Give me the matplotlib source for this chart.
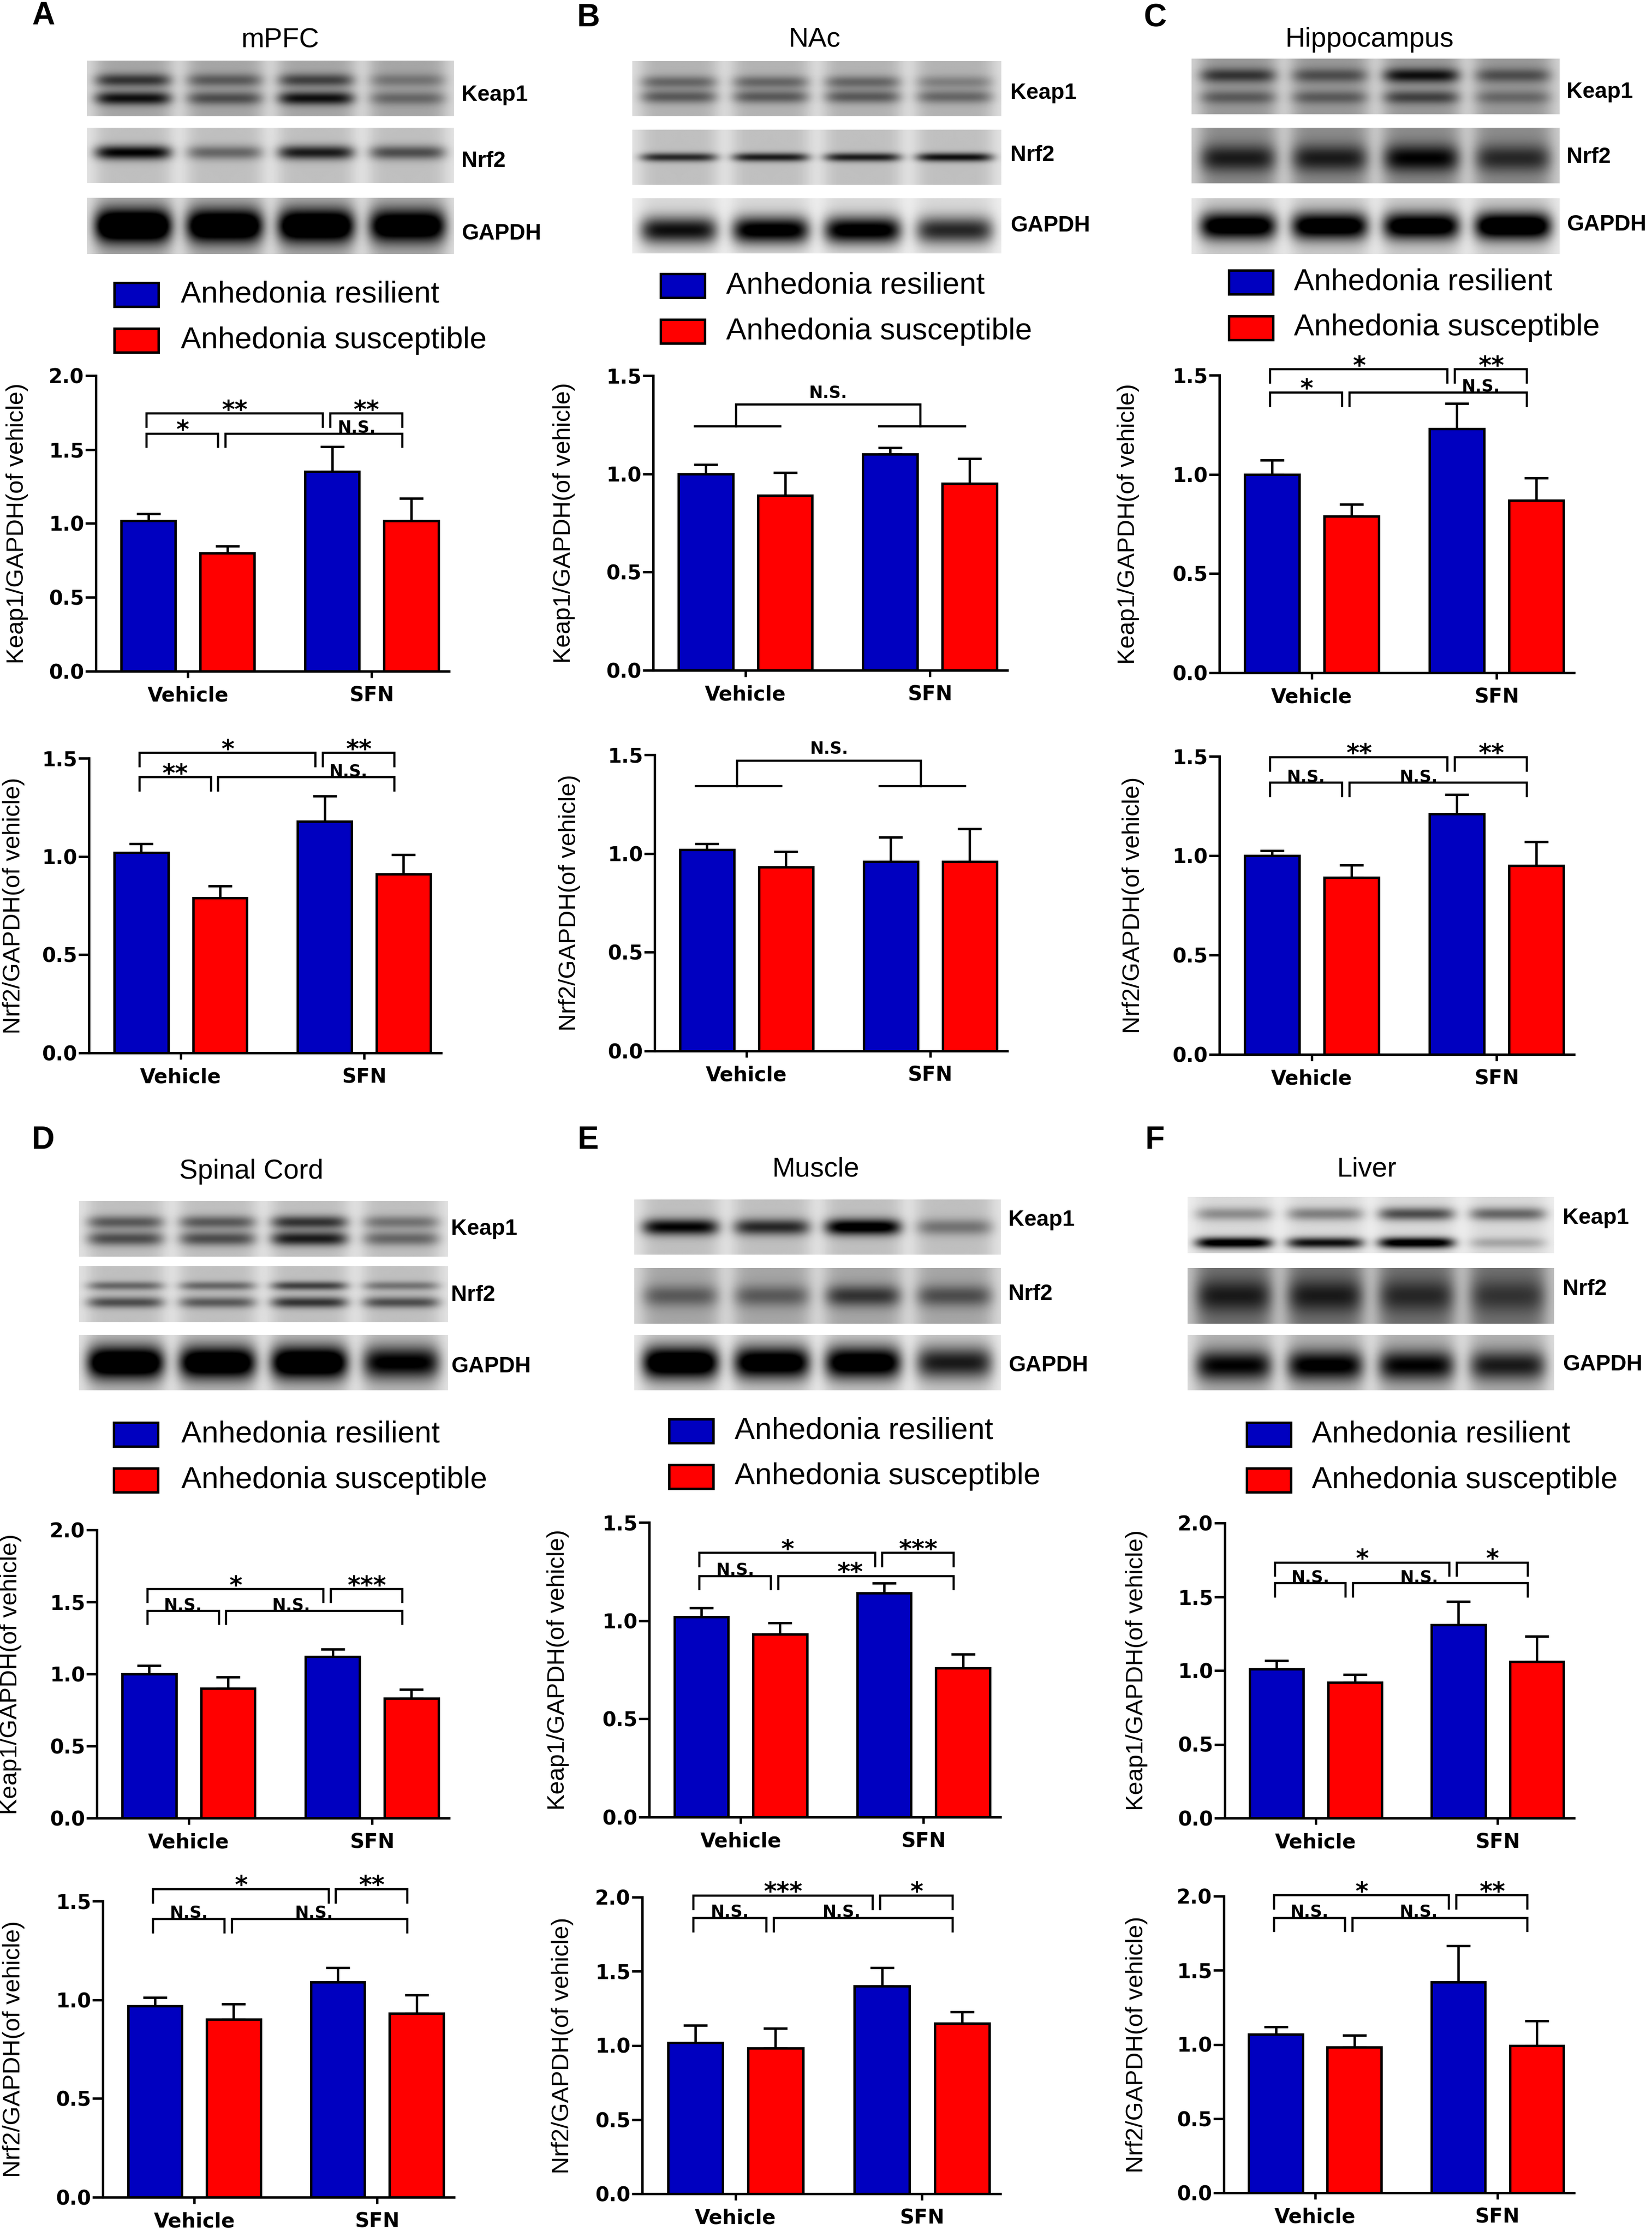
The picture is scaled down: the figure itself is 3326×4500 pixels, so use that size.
import numpy as np
import matplotlib
matplotlib.use('Agg')
import matplotlib.pyplot as plt
from matplotlib.patches import Rectangle

W, H = 3326, 4500
BLUE = '#0000c0'
RED = '#ff0000'
SANS = ['Liberation Sans', 'DejaVu Sans']

groups = ['Vehicle', 'SFN']
legend_labels = ['Anhedonia resilient', 'Anhedonia susceptible']
letters = ['A', 'B', 'C', 'D', 'E', 'F']
regions = ['mPFC', 'NAc', 'Hippocampus', 'Spinal Cord', 'Muscle', 'Liver']
blot_names = ['Keap1', 'Nrf2', 'GAPDH']

# bar order: resilient-vehicle, susceptible-vehicle, resilient-SFN, susceptible-SFN
keap1_mean = [
    [1.02, 0.80, 1.35, 1.02],
    [1.00, 0.89, 1.10, 0.95],
    [1.00, 0.79, 1.23, 0.87],
    [1.00, 0.90, 1.12, 0.83],
    [1.02, 0.93, 1.14, 0.76],
    [1.01, 0.92, 1.31, 1.06],
]
keap1_sem = [
    [0.045, 0.048, 0.17, 0.15],
    [0.046, 0.117, 0.034, 0.127],
    [0.073, 0.060, 0.128, 0.112],
    [0.057, 0.080, 0.054, 0.064],
    [0.044, 0.059, 0.051, 0.069],
    [0.056, 0.052, 0.157, 0.173],
]
nrf2_mean = [
    [1.02, 0.79, 1.18, 0.91],
    [1.02, 0.93, 0.96, 0.96],
    [1.00, 0.89, 1.21, 0.95],
    [0.97, 0.90, 1.09, 0.93],
    [1.02, 0.98, 1.40, 1.15],
    [1.07, 0.98, 1.42, 0.99],
]
nrf2_sem = [
    [0.046, 0.059, 0.128, 0.099],
    [0.029, 0.078, 0.121, 0.166],
    [0.025, 0.063, 0.097, 0.121],
    [0.041, 0.080, 0.073, 0.095],
    [0.117, 0.136, 0.124, 0.075],
    [0.049, 0.081, 0.244, 0.168],
]
keap1_ymax = [2.0, 1.5, 1.5, 2.0, 1.5, 2.0]
nrf2_ymax = [1.5, 1.5, 1.5, 1.5, 2.0, 2.0]

# significance brackets: low row (0-1, 1-3), high row (0-2, 2-3)
keap1_sig_low = [1.608, 1.243, 1.413, 1.438, 1.228, 1.592]
keap1_sig_high = [1.743, 1.353, 1.529, 1.589, 1.345, 1.732]
keap1_sig_text = [['*', 'N.S.', '**', '**'], ['N.S.'], ['*', 'N.S.', '*', '**'],
                  ['N.S.', 'N.S.', '*', '***'], ['N.S.', '**', '*', '***'],
                  ['N.S.', 'N.S.', '*', '*']]
keap1_long_pos = [0.745, 0.5, 0.74, 0.37, 0.41, 0.38]
nrf2_sig_low = [1.403, 1.341, 1.367, 1.410, 1.860, 1.854]
nrf2_sig_high = [1.527, 1.471, 1.495, 1.561, 2.010, 2.006]
nrf2_sig_text = [['**', 'N.S.', '*', '**'], ['N.S.'], ['N.S.', 'N.S.', '**', '**'],
                 ['N.S.', 'N.S.', '*', '**'], ['N.S.', 'N.S.', '***', '*'],
                 ['N.S.', 'N.S.', '*', '**']]
nrf2_long_pos = [0.74, 0.5, 0.39, 0.47, 0.38, 0.38]

# western blot look: lane background and bands (y, width, darkness per lane)
blot_bg = [
    [0.35, 0.25, 0.30],
    [0.30, 0.25, 0.15],
    [0.40, 0.45, 0.20],
    [0.25, 0.25, 0.25],
    [0.25, 0.35, 0.20],
    [0.15, 0.55, 0.30],
]
blot_bands = [
    [[(0.35, 0.12, [0.45, 0.30, 0.40, 0.20]), (0.68, 0.12, [0.6, 0.35, 0.6, 0.25])],
     [(0.45, 0.13, [0.75, 0.35, 0.65, 0.45])],
     [(0.5, 0.3, [1.2, 1.1, 1.1, 1.0])]],
    [[(0.38, 0.12, [0.3, 0.3, 0.3, 0.2]), (0.65, 0.12, [0.35, 0.35, 0.35, 0.3])],
     [(0.5, 0.08, [0.6, 0.65, 0.65, 0.7])],
     [(0.58, 0.25, [0.8, 0.95, 0.95, 0.7])]],
    [[(0.3, 0.13, [0.4, 0.3, 0.55, 0.3]), (0.7, 0.12, [0.25, 0.25, 0.35, 0.2])],
     [(0.55, 0.25, [0.45, 0.45, 0.55, 0.4])],
     [(0.5, 0.25, [1.0, 1.0, 1.0, 1.1])]],
    [[(0.38, 0.12, [0.4, 0.4, 0.55, 0.3]), (0.68, 0.13, [0.45, 0.45, 0.65, 0.35])],
     [(0.35, 0.08, [0.35, 0.35, 0.5, 0.3]), (0.65, 0.1, [0.45, 0.4, 0.55, 0.45])],
     [(0.5, 0.3, [1.1, 1.05, 1.1, 0.8])]],
    [[(0.5, 0.15, [0.75, 0.6, 0.85, 0.3])],
     [(0.5, 0.2, [0.3, 0.3, 0.45, 0.35])],
     [(0.5, 0.3, [1.1, 1.0, 1.0, 0.7])]],
    [[(0.3, 0.12, [0.3, 0.35, 0.55, 0.45]), (0.82, 0.1, [0.95, 0.8, 0.95, 0.2])],
     [(0.5, 0.3, [0.35, 0.35, 0.3, 0.25])],
     [(0.55, 0.28, [0.7, 0.75, 0.7, 0.6])]],
]

# layout in pixels of the 3326x4500 canvas
keap1_box = [(193, 904, 756, 1351), (1315, 2028, 756, 1349), (2455, 3169, 755, 1354),
             (195, 904, 3079, 3659), (1307, 2014, 3064, 3657), (2466, 3169, 3065, 3659)]
nrf2_box = [(179, 888, 1526, 2119), (1318, 2028, 1519, 2115), (2455, 3169, 1522, 2122),
            (207, 914, 3826, 4422), (1293, 2014, 3818, 4415), (2464, 3169, 3816, 4413)]
keap1_ylab_x = [57, 1158, 2294, 44, 1146, 2311]
nrf2_ylab_x = [50, 1169, 2304, 50, 1155, 2311]
blot_x = [(175, 914), (1273, 2016), (2399, 3140), (159, 902), (1277, 2015), (2391, 3129)]
blot_y = [[(122, 234), (257, 368), (398, 511)], [(123, 234), (261, 372), (399, 510)],
          [(118, 230), (257, 369), (399, 511)], [(2417, 2529), (2548, 2661), (2687, 2798)],
          [(2414, 2525), (2552, 2664), (2687, 2798)], [(2409, 2522), (2552, 2664), (2687, 2798)]]
blot_label_x = [929, 2034, 3154, 908, 2030, 3146]
blot_label_y = [[191, 325, 471], [188, 312, 455], [186, 317, 452],
                [2474, 2606, 2751], [2456, 2604, 2749], [2452, 2595, 2746]]
title_xy = [(564, 82), (1640, 80), (2757, 80), (506, 2358), (1642, 2354), (2752, 2354)]
letter_xy = [(64, 2), (1162, 6), (2302, 6), (64, 2265), (1163, 2265), (2306, 2265)]
legend_x = [230, 1330, 2474, 229, 1347, 2510]
legend_y = [569, 551, 544, 2863, 2856, 2863]
legend_text_x = [364, 1462, 2605, 365, 1479, 2641]

OFF = 0.215
BW = 0.295
LW = 3.5


def blot_image(bg, bands, nx=240, ny=80):
    xx = np.linspace(0, 1, nx)[None, :]
    yy = np.linspace(0, 1, ny)[:, None]
    img = np.full((ny, nx), bg * 0.45)
    for k in range(4):
        lane = np.exp(-((xx - (k + 0.5) / 4) / 0.105) ** 6)
        img = img + lane * bg * 0.55
        for yp, sig, dark in bands:
            img = img + lane * dark[k] * np.exp(-((yy - yp) / sig) ** 2)
    return np.clip(img, 0, 1)


def bracket(ax, x1, x2, y, drop):
    ax.plot([x1, x1, x2, x2], [y - drop, y, y, y - drop], color='k', lw=3.2,
            clip_on=False, solid_joinstyle='miter')


def sig_label(ax, x, y, s):
    if s.startswith('N'):
        ax.annotate(s, (x, y), xytext=(0, 1), textcoords='offset points', ha='center',
                    va='baseline', fontsize=24, fontweight='bold', annotation_clip=False)
    else:
        ax.annotate(s, (x, y), xytext=(0, -6), textcoords='offset points', ha='center',
                    va='baseline', fontsize=36, fontweight='bold', annotation_clip=False)


def bar_chart(box, ylab_x, means, sems, ymax, low, high, texts, long_pos, ylabel):
    l, r, t, b = box
    ax = fig.add_axes([l / W, 1 - b / H, (r - l) / W, (b - t) / H])
    ax.patch.set_alpha(0)
    xc = np.array([-OFF, OFF, 1 - OFF, 1 + OFF])
    means = np.array(means)
    sems = np.array(sems)
    ax.errorbar(xc, means, yerr=[np.zeros(4), sems], fmt='none', ecolor='k',
                elinewidth=LW, capsize=17, capthick=LW, zorder=1)
    ax.bar(xc[0::2], means[0::2], BW, color=BLUE, edgecolor='k', linewidth=LW, zorder=2)
    ax.bar(xc[1::2], means[1::2], BW, color=RED, edgecolor='k', linewidth=LW, zorder=2)
    ax.set_xlim(-0.5, 1.42)
    ax.set_ylim(0, ymax)
    ax.set_yticks(np.arange(0, ymax + 0.01, 0.5))
    ax.yaxis.set_major_formatter(matplotlib.ticker.FormatStrFormatter('%.1f'))
    ax.set_xticks([0, 1])
    ax.set_xticklabels(groups)
    for s in ('top', 'right'):
        ax.spines[s].set_visible(False)
    for s in ('left', 'bottom'):
        ax.spines[s].set_linewidth(LW)
    ax.tick_params(axis='y', length=15, width=LW, pad=2, labelsize=29)
    ax.tick_params(axis='x', length=9, width=LW, pad=12, labelsize=29)
    for lab in ax.get_xticklabels() + ax.get_yticklabels():
        lab.set_fontweight('bold')
    ax.set_ylabel(ylabel, family=SANS, fontsize=35)
    ax.yaxis.set_label_coords((ylab_x - l) / (r - l), 0.5)

    drop = 0.045 * ymax
    if len(texts) == 1:
        for g in (0, 1):
            ax.plot([g - 0.275, g + 0.19], [low, low], color='k', lw=3.2, clip_on=False)
        bracket(ax, -0.05, 0.95, high, high - low)
        sig_label(ax, 0.45, high + 0.02 * ymax, texts[0])
        return ax
    pairs_low = [(0, 1), (1, 3)]
    pairs_high = [(0, 2), (2, 3)]
    for k, (i, j) in enumerate(pairs_low + pairs_high):
        y = low if k < 2 else high
        x1, x2 = xc[i] - 0.01, xc[j] - 0.05
        bracket(ax, x1, x2, y, drop)
        frac = long_pos if k == 1 else 0.5
        sig_label(ax, x1 + frac * (x2 - x1), y, texts[k])
    return ax


plt.rcParams['font.family'] = ['DejaVu Sans']
fig = plt.figure(figsize=(W / 100, H / 100), dpi=100)

over = fig.add_axes([0, 0, 1, 1])
over.axis('off')

for p in range(6):
    x0, x1 = blot_x[p]
    for k in range(3):
        y0, y1 = blot_y[p][k]
        over.imshow(blot_image(blot_bg[p][k], blot_bands[p][k]), cmap='gray_r', vmin=0, vmax=1,
                    extent=(x0, x1, y1, y0), aspect='auto', interpolation='bilinear')
        over.text(blot_label_x[p], blot_label_y[p][k], blot_names[k], family=SANS,
                  fontweight='bold', fontsize=32, ha='left', va='center')
    lx, ly = letter_xy[p]
    over.text(lx, ly, letters[p], family=SANS, fontweight='bold', fontsize=46, ha='left', va='top')
    tx, ty = title_xy[p]
    over.text(tx, ty, regions[p], family=SANS, fontsize=40, ha='center', va='center')
    for k, col in enumerate([BLUE, RED]):
        py = legend_y[p] + 92 * k
        over.add_patch(Rectangle((legend_x[p], py), 89, 48, facecolor=col, edgecolor='k', lw=LW))
        over.text(legend_text_x[p], py + 24, legend_labels[k], family=SANS, fontsize=44,
                  ha='left', va='center')

over.set_xlim(0, W)
over.set_ylim(H, 0)

for p in range(6):
    bar_chart(keap1_box[p], keap1_ylab_x[p], keap1_mean[p], keap1_sem[p], keap1_ymax[p],
              keap1_sig_low[p], keap1_sig_high[p], keap1_sig_text[p], keap1_long_pos[p],
              'Keap1/GAPDH(of vehicle)')
    bar_chart(nrf2_box[p], nrf2_ylab_x[p], nrf2_mean[p], nrf2_sem[p], nrf2_ymax[p],
              nrf2_sig_low[p], nrf2_sig_high[p], nrf2_sig_text[p], nrf2_long_pos[p],
              'Nrf2/GAPDH(of vehicle)')

fig.savefig('out.png', dpi=100)
